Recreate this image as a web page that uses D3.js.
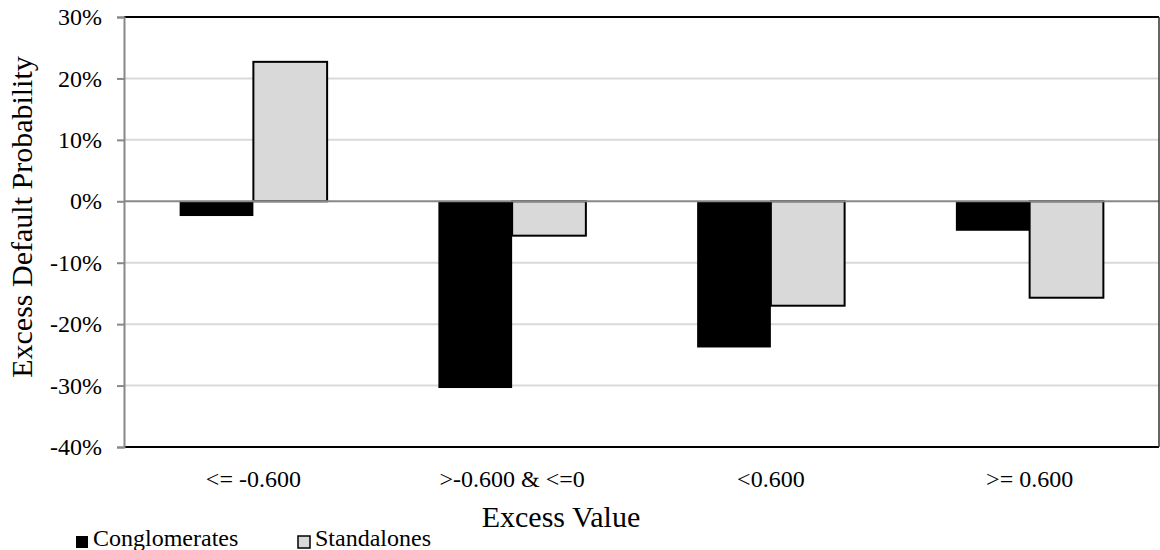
<!DOCTYPE html>
<html><head><meta charset="utf-8">
<script src="https://cdn.jsdelivr.net/npm/d3@7"></script>
<style>body{margin:0;background:#fff}svg{display:block}text{font-family:"Liberation Serif","Times New Roman",serif;fill:#000}</style>
</head><body><svg id="c" width="1160" height="550"></svg>
<script>
const categories = ["<= -0.600", ">-0.600 & <=0", "<0.600", ">= 0.600"];
const seriesNames = ["Conglomerates", "Standalones"];
const conglomerates = [-2.4, -30.4, -23.8, -4.8];
const standalones = [22.7, -5.6, -17.0, -15.7];
const yTicks = [30, 20, 10, 0, -10, -20, -30, -40];
const colors = ["#000000", "#d9d9d9"];

const svg = d3.select("#c");
const m = {l:124, r:1159, t:17, b:447};
const x = d3.scaleBand().domain(categories).range([m.l, m.r]).paddingInner(0.43).paddingOuter(0.215);
const xs = d3.scaleBand().domain(seriesNames).range([0, x.bandwidth()]);
const y = d3.scaleLinear().domain([-40, 30]).range([m.b, m.t]);

// gridlines
svg.append("g").selectAll("line").data(yTicks.filter(d => d !== 0 && d !== 30 && d !== -40)).join("line")
  .attr("x1", m.l).attr("x2", m.r).attr("y1", d => y(d)).attr("y2", d => y(d))
  .attr("stroke", "#d9d9d9").attr("stroke-width", 2);

const data = categories.map((c, i) => ({c, vals: [conglomerates[i], standalones[i]]}));
const g = svg.append("g");
data.forEach(d => {
  d.vals.forEach((v, j) => {
    g.append("rect")
      .attr("x", x(d.c) + xs(seriesNames[j]))
      .attr("width", xs.bandwidth())
      .attr("y", y(Math.max(0, v)))
      .attr("height", Math.abs(y(v) - y(0)))
      .attr("fill", colors[j])
      .attr("stroke", j === 1 ? "#000" : "none")
      .attr("stroke-width", 2);
  });
});

// zero line
svg.append("line").attr("x1", m.l).attr("x2", m.r).attr("y1", y(0)).attr("y2", y(0))
  .attr("stroke", "#888").attr("stroke-width", 2);

// frame
svg.append("line").attr("x1", m.l).attr("x2", m.r).attr("y1", m.t).attr("y2", m.t).attr("stroke", "#000").attr("stroke-width", 2);
svg.append("line").attr("x1", m.l).attr("x2", m.r).attr("y1", m.b).attr("y2", m.b).attr("stroke", "#000").attr("stroke-width", 2);
svg.append("line").attr("x1", m.r).attr("x2", m.r).attr("y1", m.t).attr("y2", m.b).attr("stroke", "#333").attr("stroke-width", 1.5);

// y axis
const yAxis = d3.axisLeft(y).tickValues(yTicks).tickFormat(d => d + "%").tickSize(7).tickPadding(15);
const ya = svg.append("g").attr("transform", `translate(${m.l},0)`).call(yAxis);
ya.select(".domain").attr("stroke", "#888").attr("stroke-width", 2);
ya.selectAll(".tick line").attr("stroke", "#888").attr("stroke-width", 2);
ya.selectAll("text").attr("font-size", 24).attr("font-family", "Liberation Serif").attr("fill", "#000");

// x labels
const xAxis = d3.axisBottom(x).tickSize(0).tickPadding(0);
const xa = svg.append("g").attr("transform", `translate(0,${m.b})`).call(xAxis);
xa.select(".domain").remove();
xa.selectAll("text").attr("font-size", 24).attr("font-family", "Liberation Serif").attr("fill", "#000").attr("y", 40).attr("dy", 0);

// titles
svg.append("text").attr("x", 561).attr("y", 527).attr("text-anchor", "middle").attr("font-size", 30).text("Excess Value");
svg.append("text").attr("transform", `translate(32,217) rotate(-90)`).attr("text-anchor", "middle").attr("font-size", 30).text("Excess Default Probability");

// legend
const leg = svg.append("g");
const legX = [76, 298];
seriesNames.forEach((s, i) => {
  leg.append("rect").attr("x", legX[i]).attr("y", 536).attr("width", 12).attr("height", 12)
    .attr("fill", colors[i]).attr("stroke", "#000").attr("stroke-width", i === 1 ? 1.5 : 0);
  leg.append("text").attr("x", legX[i] + 17).attr("y", 546).attr("font-size", 24).text(s);
});
</script></body></html>
